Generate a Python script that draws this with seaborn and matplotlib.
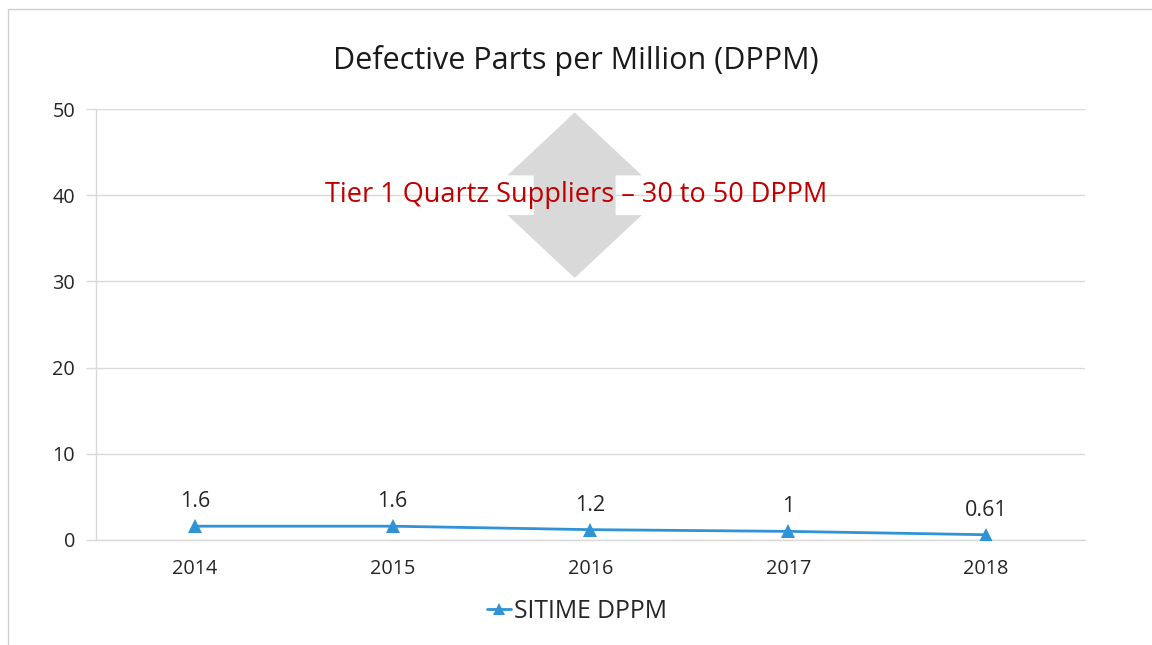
import matplotlib
matplotlib.use("Agg")
import matplotlib.pyplot as plt
import seaborn as sns
import pandas as pd
from matplotlib.patches import Polygon
from matplotlib.lines import Line2D

# ==================== 数据 ====================
years = ["2014", "2015", "2016", "2017", "2018"]
dppm = [1.6, 1.6, 1.2, 1.0, 0.61]
dppm_labels = ["1.6", "1.6", "1.2", "1", "0.61"]
series_name = "SITIME DPPM"
title = "Defective Parts per Million (DPPM)"
band_text = "Tier 1 Quartz Suppliers \u2013 30 to 50 DPPM"
band_low, band_high = 30, 50
y_ticks = [0, 10, 20, 30, 40, 50]

LINE_COLOR = "#2f93d6"
GRID_COLOR = "#d9d9d9"
TEXT_COLOR = "#262626"

sns.set_theme(style="white")
plt.rcParams["font.family"] = ["Open Sans", "DejaVu Sans"]

df = pd.DataFrame({"year": years, "value": dppm})

fig = plt.figure(figsize=(11.52, 6.45), dpi=100)
ax = fig.add_axes([0.0833, 0.1628, 0.8585, 0.6682])

# 灰色双向箭头（30~50 区间示意）
cx = 1.92
head_w, shaft_w = 0.34, 0.207
y_top, y_bot = band_high - 0.4, band_low + 0.4
head_h = 7.3
arrow = Polygon([
    (cx, y_top), (cx + head_w, y_top - head_h), (cx + shaft_w, y_top - head_h),
    (cx + shaft_w, y_bot + head_h), (cx + head_w, y_bot + head_h), (cx, y_bot),
    (cx - head_w, y_bot + head_h), (cx - shaft_w, y_bot + head_h),
    (cx - shaft_w, y_top - head_h), (cx - head_w, y_top - head_h),
], closed=True, facecolor="#d9d9d9", edgecolor="none", zorder=0)
ax.add_patch(arrow)

sns.lineplot(data=df, x="year", y="value", ax=ax, color=LINE_COLOR, linewidth=2,
             marker="^", markersize=10, markeredgewidth=0, label=series_name,
             sort=False, zorder=3)

for i, (v, lab) in enumerate(zip(dppm, dppm_labels)):
    ax.annotate(lab, (i, v), xytext=(0, 10), textcoords="offset points",
                ha="center", va="bottom", fontsize=15.5, color=TEXT_COLOR)

ax.text(cx + 0.01, 40.0, band_text, ha="center", va="center", fontsize=19.5,
        color="#c00000", zorder=4)

ax.set_xlim(-0.5, len(years) - 0.5)
ax.set_ylim(0, 50)
ax.set_yticks(y_ticks)
ax.yaxis.grid(True, color=GRID_COLOR, linewidth=1, zorder=1)
ax.set_axisbelow(False)
for line in ax.get_ygridlines():
    line.set_zorder(1)

ax.set_xticks(range(len(years)))
ax.set_xticklabels(years)
ax.set_xticks([i - 0.5 for i in range(len(years) + 1)], minor=True)
ax.tick_params(axis="x", which="major", length=0, pad=14, labelsize=14.3, labelcolor=TEXT_COLOR)
ax.tick_params(axis="x", which="minor", length=7, width=1, color=GRID_COLOR, direction="out")
ax.tick_params(axis="y", length=7, width=1, color=GRID_COLOR, pad=8, labelsize=14.3,
               labelcolor=TEXT_COLOR, left=True)
ax.set_xlabel("")
ax.set_ylabel("")

for side in ["top", "right"]:
    ax.spines[side].set_visible(False)
for side in ["left", "bottom"]:
    ax.spines[side].set_color(GRID_COLOR)
    ax.spines[side].set_linewidth(1)

leg = ax.legend(loc="upper center", bbox_to_anchor=(0.486, -0.085), frameon=False,
                fontsize=17.8, handlelength=1.0, handletextpad=0.1,
                labelcolor=TEXT_COLOR)
for h in leg.legend_handles:
    h.set_markersize(8)

fig.suptitle(title, y=0.93, fontsize=22, color="#1a1a1a")

# 外边框（左、上）
fig.add_artist(Line2D([8 / 1152, 8 / 1152], [0, 1 - 9 / 645], color="#d0d0d0", linewidth=1))
fig.add_artist(Line2D([8 / 1152, 1], [1 - 9 / 645, 1 - 9 / 645], color="#d0d0d0", linewidth=1))

fig.savefig("out.png", dpi=100, facecolor="white")
